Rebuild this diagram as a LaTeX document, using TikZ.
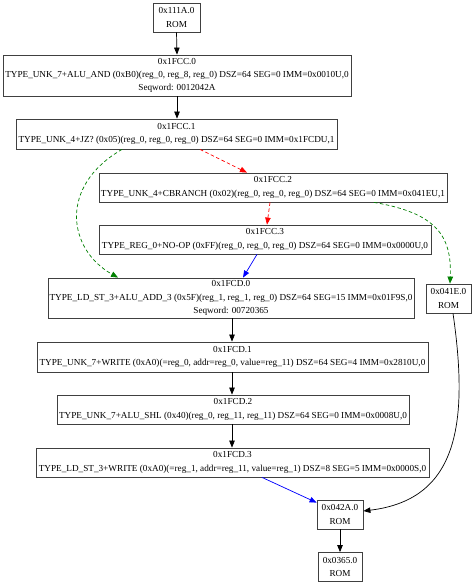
\documentclass[tikz,border=0pt]{standalone}
\usepackage{fontspec}
\setmainfont{Liberation Serif}
\usetikzlibrary{arrows.meta,calc}
\definecolor{gvgreen}{RGB}{0,128,0}
\definecolor{gvred}{RGB}{255,0,0}
\definecolor{gvblue}{RGB}{0,0,255}
\tikzset{
  blk/.style={draw=black!75, line width=0.8pt, rectangle, inner sep=0pt, align=center,
              font=\fontsize{9.2}{13.3}\selectfont},
  edge/.style={line width=0.7pt, -{Triangle[length=7pt,width=5.5pt]}},
  dsh/.style={dash pattern=on 3.5pt off 2.5pt}
}
\begin{document}
\begin{tikzpicture}[x=1pt,y=-1pt]
\useasboundingbox[fill=white] (0,0) rectangle (474,585);
\node[blk, minimum width=47pt, minimum height=29pt] (a) at (176.5,17.5) {0x111A.0\\ROM};
\node[blk, minimum width=348pt, minimum height=41pt] (c0) at (177,75.5) {0x1FCC.0\\TYPE\_UNK\_7+ALU\_AND (0xB0)(reg\_0, reg\_8, reg\_0) DSZ=64 SEG=0 IMM=0x0010U,0\\Seqword: 0012042A};
\node[blk, minimum width=321pt, minimum height=30pt] (c1) at (176.5,134) {0x1FCC.1\\TYPE\_UNK\_4+JZ? (0x05)(reg\_0, reg\_0, reg\_0) DSZ=64 SEG=0 IMM=0x1FCDU,1};
\node[blk, minimum width=348pt, minimum height=29pt] (c2) at (273,187.5) {0x1FCC.2\\TYPE\_UNK\_4+CBRANCH (0x02)(reg\_0, reg\_0, reg\_0) DSZ=64 SEG=0 IMM=0x041EU,1};
\node[blk, minimum width=332pt, minimum height=29pt] (c3) at (265,239.5) {0x1FCC.3\\TYPE\_REG\_0+NO-OP (0xFF)(reg\_0, reg\_0, reg\_0) DSZ=64 SEG=0 IMM=0x0000U,0};
\node[blk, minimum width=366pt, minimum height=40pt] (d0) at (231,298) {0x1FCD.0\\TYPE\_LD\_ST\_3+ALU\_ADD\_3 (0x5F)(reg\_1, reg\_1, reg\_0) DSZ=64 SEG=15 IMM=0x01F9S,0\\Seqword: 00720365};
\node[blk, minimum width=45pt, minimum height=29pt] (e) at (448.5,298.5) {0x041E.0\\ROM};
\node[blk, minimum width=391pt, minimum height=30pt] (d1) at (232.5,357) {0x1FCD.1\\TYPE\_UNK\_7+WRITE (0xA0)(=reg\_0, addr=reg\_0, value=reg\_11) DSZ=64 SEG=4 IMM=0x2810U,0};
\node[blk, minimum width=352pt, minimum height=29pt] (d2) at (233,409.5) {0x1FCD.2\\TYPE\_UNK\_7+ALU\_SHL (0x40)(reg\_0, reg\_11, reg\_11) DSZ=64 SEG=0 IMM=0x0008U,0};
\node[blk, minimum width=393pt, minimum height=29pt] (d3) at (232.5,462.5) {0x1FCD.3\\TYPE\_LD\_ST\_3+WRITE (0xA0)(=reg\_1, addr=reg\_11, value=reg\_1) DSZ=8 SEG=5 IMM=0x0000S,0};
\node[blk, minimum width=46pt, minimum height=29pt] (f) at (340,514.5) {0x042A.0\\ROM};
\node[blk, minimum width=44pt, minimum height=29pt] (g) at (340,567) {0x0365.0\\ROM};

\draw[edge] (a.south) -- ([xshift=0pt]c0.north);
\draw[edge] (c0.south) -- (c0.south |- c1.north);
\draw[edge, gvred, dsh] ([xshift=23.5pt]c1.south) -- ([xshift=-26pt]c2.north);
\draw[edge, gvgreen, dsh] ([xshift=-54.5pt]c1.south) .. controls +(-64,37) and +(-50,-28) .. ([xshift=-113pt]d0.north);
\draw[edge, gvred, dsh] ([xshift=-3pt]c2.south) -- ([xshift=2pt]c3.north);
\draw[edge, gvgreen, dsh] ([xshift=101pt]c2.south) .. controls +(61,10.5) and +(2,-49) .. ([xshift=1.5pt]e.north);
\draw[edge, gvblue] ([xshift=-8pt]c3.south) -- ([xshift=12pt]d0.north);
\draw[edge] ([xshift=1pt]d0.south) -- ([xshift=-0.5pt]d1.north);
\draw[edge] ([xshift=-0.5pt]d1.south) -- ([xshift=-1pt]d2.north);
\draw[edge] ([xshift=-1pt]d2.south) -- ([xshift=-0.5pt]d3.north);
\draw[edge, gvblue] ([xshift=29.5pt]d3.south) -- ([yshift=-3pt]f.north west);
\draw[edge] ([xshift=4.5pt]e.south) .. controls +(17,117) and +(91,-11) .. ([yshift=3.5pt]f.east);
\draw[edge] (f.south) -- (g.north);
\end{tikzpicture}
\end{document}
